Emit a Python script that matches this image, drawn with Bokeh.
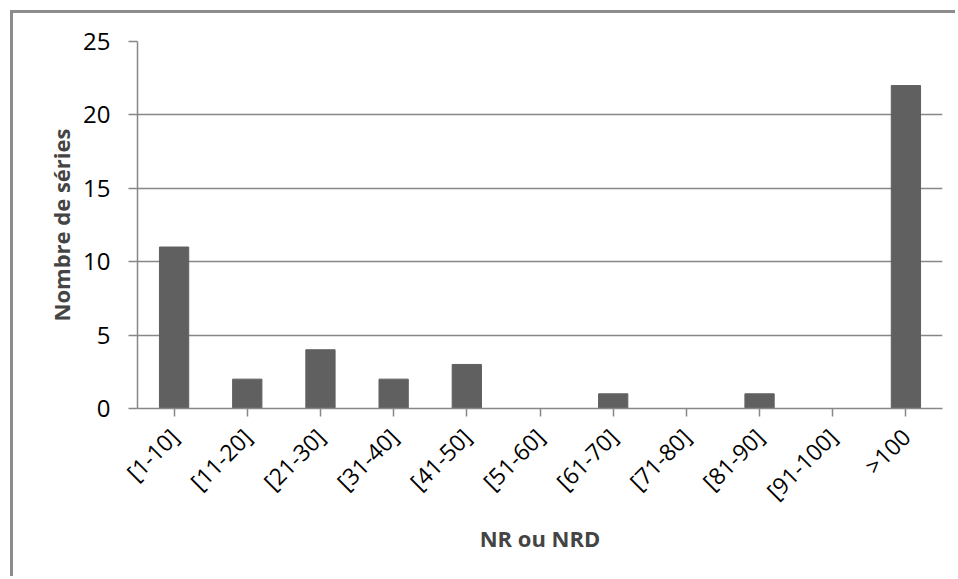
import math
from bokeh.plotting import figure
from bokeh.models import FactorRange, Range1d, FixedTicker
from bokeh.embed import file_html
from bokeh.resources import INLINE

categories = ["[1-10]", "[11-20]", "[21-30]", "[31-40]", "[41-50]", "[51-60]",
              "[61-70]", "[71-80]", "[81-90]", "[91-100]", ">100"]
counts = [11, 2, 4, 2, 3, 0, 1, 0, 1, 0, 22]
y_ticks = [0, 5, 10, 15, 20, 25]

FONT = "Open Sans"
GRID = "#878787"

p = figure(x_range=FactorRange(factors=categories, range_padding=0),
           y_range=Range1d(0, 25),
           width=945, height=566, output_backend="svg", toolbar_location=None,
           min_border_left=124, min_border_top=28, min_border_right=16,
           min_border_bottom=171)
p.margin = (10, 0, 0, 10)
p.styles = {"border-left": "3px solid #8c8c8c", "border-top": "3px solid #8c8c8c"}

p.vbar(x=categories, top=counts, width=0.4, fill_color="#606060",
       line_color="#606060")

p.outline_line_color = None
p.background_fill_color = "white"
p.border_fill_color = "white"
p.xgrid.grid_line_color = None
p.ygrid.grid_line_color = GRID
p.ygrid.grid_line_width = 1.5

p.yaxis.ticker = FixedTicker(ticks=y_ticks)
p.yaxis.minor_tick_line_color = None
p.yaxis.major_tick_out = 9
p.yaxis.major_tick_in = 0
p.yaxis.axis_line_color = GRID
p.yaxis.major_tick_line_color = GRID
p.yaxis.axis_line_width = 1.5
p.yaxis.major_tick_line_width = 1.5
p.yaxis.major_label_text_font = FONT
p.yaxis.major_label_text_font_size = "24px"
p.yaxis.major_label_text_color = "#000000"
p.yaxis.major_label_standoff = 18
p.yaxis.axis_label = "Nombre de séries"
p.yaxis.axis_label_text_font = FONT
p.yaxis.axis_label_text_font_style = "bold"
p.yaxis.axis_label_text_font_size = "22px"
p.yaxis.axis_label_standoff = 4

p.xaxis.axis_line_color = GRID
p.xaxis.axis_line_width = 1.5
p.xaxis.major_tick_line_color = GRID
p.xaxis.major_tick_line_width = 1.5
p.xaxis.major_tick_out = 8
p.xaxis.major_tick_in = 0
p.xaxis.major_label_orientation = math.pi / 4
p.xaxis.major_label_text_font = FONT
p.xaxis.major_label_text_font_size = "23px"
p.xaxis.major_label_text_color = "#000000"
p.xaxis.major_label_standoff = 16
p.xaxis.axis_label = "NR ou NRD"
p.xaxis.axis_label_text_font = FONT
p.xaxis.axis_label_text_font_style = "bold"
p.xaxis.axis_label_text_font_size = "22px"
p.xaxis.axis_label_standoff = 3

open("out.html", "w").write(file_html(p, INLINE))
